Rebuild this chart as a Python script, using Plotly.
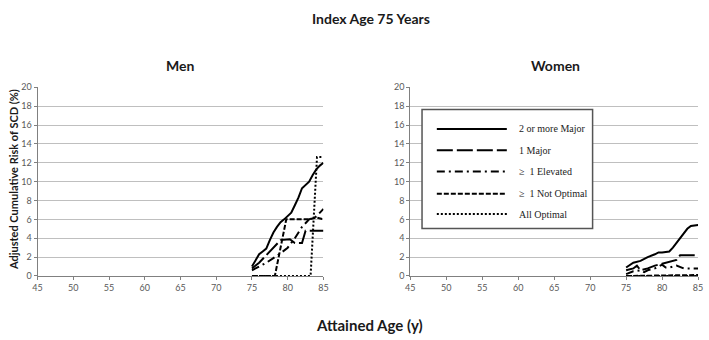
import plotly.graph_objects as go

# ---------------- data ----------------
series_names = ["2 or more Major", "1 Major", "\u2265  1 Elevated", "\u2265  1 Not Optimal", "All Optimal"]
series_dash = ["solid", "16px,4px", "8px,4px,2px,4px", "5px,2px", "2px,2px"]

men_major2_age = [75, 75.5, 76, 76.5, 77, 77.5, 78, 78.5, 79, 79.5, 80, 80.5, 81, 81.5, 82, 82.5, 83, 83.5, 84, 84.5, 85]
men_major2_val = [1.0, 1.6, 2.3, 2.6, 2.9, 3.8, 4.6, 5.2, 5.7, 6.0, 6.3, 6.7, 7.5, 8.3, 9.3, 9.6, 10.0, 10.7, 11.3, 11.7, 12.0]
men_major1_age = [75, 76, 77, 78, 79, 80.3, 81, 82, 82.5, 85]
men_major1_val = [0.8, 1.4, 2.2, 3.0, 3.8, 3.9, 3.5, 3.5, 4.8, 4.8]
men_elev_age = [75, 76, 77, 78, 79, 80, 81, 82, 83, 84, 85]
men_elev_val = [0.6, 1.0, 1.4, 1.9, 2.4, 3.0, 4.0, 5.2, 6.0, 6.3, 7.1]
men_notopt_age = [75, 78.2, 79.8, 83, 84, 85]
men_notopt_val = [0.0, 0.0, 6.0, 6.0, 6.2, 6.0]
men_opt_age = [75, 83.2, 84.1, 84.8]
men_opt_val = [0.0, 0.0, 12.6, 12.6]

women_major2_age = [75, 75.5, 76, 77, 78, 79, 79.5, 80, 81, 81.5, 82, 82.5, 83, 83.5, 84, 85]
women_major2_val = [0.9, 1.2, 1.4, 1.6, 2.0, 2.3, 2.5, 2.5, 2.6, 3.0, 3.5, 4.1, 4.6, 5.0, 5.3, 5.4]
women_major1_age = [75, 76, 76.5, 77, 78, 79, 80, 81, 82, 82.5, 85]
women_major1_val = [0.6, 0.8, 1.1, 0.6, 0.8, 1.1, 1.3, 1.5, 1.7, 2.2, 2.2]
women_elev_age = [75, 76, 77, 77.5, 78, 79, 80, 80.5, 81, 82, 83, 85]
women_elev_val = [0.2, 0.5, 0.6, 0.4, 0.6, 0.8, 1.2, 0.9, 0.9, 1.1, 0.8, 0.8]
women_notopt_age = [75, 85]
women_notopt_val = [0.0, 0.1]
women_opt_age = [75, 85]
women_opt_val = [0.0, 0.0]

x_ticks = [45, 50, 55, 60, 65, 70, 75, 80, 85]
y_ticks = [0, 2, 4, 6, 8, 10, 12, 14, 16, 18, 20]

men_series = [(men_major2_age, men_major2_val), (men_major1_age, men_major1_val),
              (men_elev_age, men_elev_val), (men_notopt_age, men_notopt_val),
              (men_opt_age, men_opt_val)]
women_series = [(women_major2_age, women_major2_val), (women_major1_age, women_major1_val),
                (women_elev_age, women_elev_val), (women_notopt_age, women_notopt_val),
                (women_opt_age, women_opt_val)]

W, H = 709, 340
def px(x): return x / W
def py(y): return 1 - y / H

fig = go.Figure()

for i, (ages, vals) in enumerate(men_series):
    fig.add_trace(go.Scatter(x=ages, y=vals, mode="lines", xaxis="x", yaxis="y",
                             line=dict(color="black", width=2, dash=series_dash[i]),
                             showlegend=False, name=series_names[i]))
for i, (ages, vals) in enumerate(women_series):
    fig.add_trace(go.Scatter(x=ages, y=vals, mode="lines", xaxis="x2", yaxis="y2",
                             line=dict(color="black", width=2, dash=series_dash[i]),
                             showlegend=False, name=series_names[i]))

tickfont = dict(family="Lato, sans-serif", size=9, color="#595959")
xa = dict(range=[45, 85], tickvals=x_ticks, showgrid=False, zeroline=False,
          showline=True, linecolor="#808080", linewidth=1, ticks="outside",
          ticklen=3, tickcolor="#808080", tickfont=tickfont, fixedrange=True)
ya = dict(range=[0, 20], tickvals=y_ticks, showgrid=True, gridcolor="#bfbfbf",
          gridwidth=1, zeroline=False, showline=True, linecolor="#808080",
          linewidth=1, ticks="outside", ticklen=3, tickcolor="#808080",
          tickfont=tickfont, fixedrange=True)

fig.update_layout(
    width=W, height=H, margin=dict(l=0, r=0, t=0, b=0),
    paper_bgcolor="white", plot_bgcolor="white", showlegend=False,
    xaxis=dict(xa, domain=[px(33), px(323)], anchor="y"),
    yaxis=dict(ya, domain=[py(279), py(84)], anchor="x"),
    xaxis2=dict(xa, domain=[px(411), px(703)], anchor="y2"),
    yaxis2=dict(ya, domain=[py(279), py(84)], anchor="x2"),
)

bold = dict(family="Lato, sans-serif", color="#1a1a1a")
annots = [
    dict(text="<b>Index Age 75 Years</b>", x=px(371), y=py(13), font=dict(bold, size=14)),
    dict(text="<b>Men</b>", x=px(178), y=py(62), font=dict(bold, size=14)),
    dict(text="<b>Women</b>", x=px(558), y=py(62), font=dict(bold, size=14)),
    dict(text="<b>Attained Age (y)</b>", x=px(370), y=py(330), font=dict(bold, size=15)),
    dict(text="<b>Adjusted Cumulative Risk of SCD (%)</b>", x=px(8), y=py(179),
         textangle=-90, font=dict(bold, size=11)),
]
for a in annots:
    fig.add_annotation(xref="paper", yref="paper", showarrow=False,
                       xanchor="center", yanchor="middle", **a)

# custom legend inside Women panel
fig.add_shape(type="rect", xref="paper", yref="paper",
              x0=px(423), x1=px(596), y0=py(230), y1=py(107),
              line=dict(color="#555555", width=1.5), fillcolor="white", layer="above")
row_y = [127, 149, 171, 194, 215]
for i, ry in enumerate(row_y):
    fig.add_shape(type="line", xref="paper", yref="paper",
                  x0=px(438), x1=px(509), y0=py(ry), y1=py(ry),
                  line=dict(color="black", width=2, dash=series_dash[i]), layer="above")
    fig.add_annotation(xref="paper", yref="paper", showarrow=False,
                       x=px(519), y=py(ry), xanchor="left", yanchor="middle",
                       text=series_names[i],
                       font=dict(family="Liberation Serif, serif", size=10, color="#222222"))

fig.write_html("out.html", config={"displayModeBar": False},
               post_script="document.body.style.margin='0px';document.body.style.overflow='hidden';")
